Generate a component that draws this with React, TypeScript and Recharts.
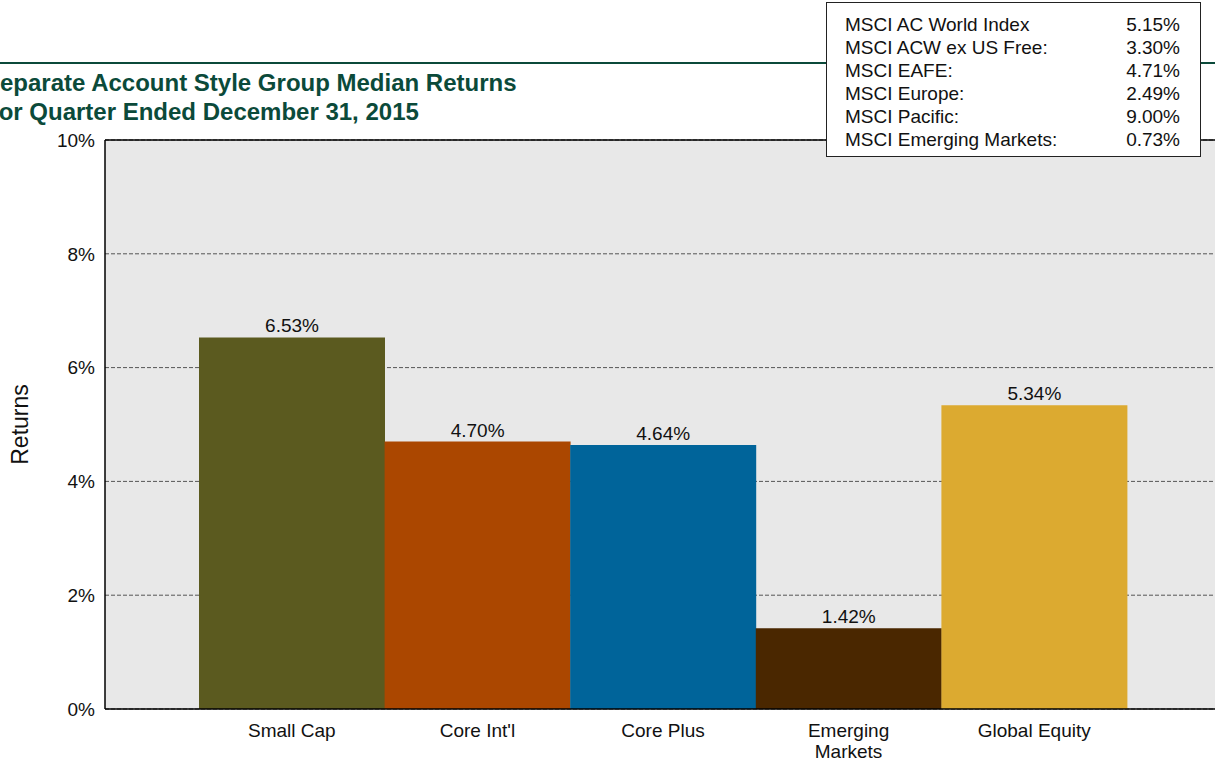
import React from "react";
import { Bar, BarChart, CartesianGrid, Cell, LabelList, ReferenceLine, XAxis, YAxis } from "recharts";

const categories = ["Small Cap", "Core Int'l", "Core Plus", "Emerging\nMarkets", "Global Equity"];
const returns = [6.53, 4.7, 4.64, 1.42, 5.34];
const colors = ["#5b5a1f", "#ab4700", "#00649a", "#4a2700", "#dcaa30"];
const yTicks = [0, 2, 4, 6, 8, 10];

const indexNames = [
  "MSCI AC World Index",
  "MSCI ACW ex US Free:",
  "MSCI EAFE:",
  "MSCI Europe:",
  "MSCI Pacific:",
  "MSCI Emerging Markets:",
];
const indexValues = ["5.15%", "3.30%", "4.71%", "2.49%", "9.00%", "0.73%"];

const titleLines = ["Separate Account Style Group Median Returns", "For Quarter Ended December 31, 2015"];

const FONT = "'Liberation Sans', Arial, sans-serif";
const GREEN = "#0b4a3a";

const data = categories.map((c, i) => ({ name: c, value: returns[i] }));

function CategoryTick(props: any) {
  const { x, y, payload } = props;
  const lines = String(payload.value).split("\n");
  return (
    <text x={x} y={y} textAnchor="middle" fontSize={19} fill="#111" fontFamily={FONT}>
      {lines.map((l, i) => (
        <tspan key={i} x={x} dy={i === 0 ? 20 : 21}>
          {l}
        </tspan>
      ))}
    </text>
  );
}

export default function App() {
  return (
    <div
      style={{
        position: "absolute",
        left: 0,
        top: 0,
        width: 1215,
        height: 763,
        overflow: "hidden",
        background: "#fff",
        fontFamily: FONT,
      }}
    >
      <div style={{ position: "absolute", left: 0, top: 62, width: 1215, height: 1.5, background: GREEN }} />
      <div
        style={{
          position: "absolute",
          left: -16,
          top: 68,
          color: GREEN,
          fontWeight: "bold",
          fontSize: 24,
          lineHeight: "29px",
          whiteSpace: "nowrap",
        }}
      >
        {titleLines.map((t) => (
          <div key={t}>{t}</div>
        ))}
      </div>

      <BarChart
        width={1240}
        height={763}
        data={data}
        barCategoryGap={0}
        margin={{ top: 140, right: 19, left: 0, bottom: 24 }}
        style={{ position: "absolute", left: 0, top: 0 }}
      >
        <CartesianGrid vertical={false} fill="#e8e8e8" stroke="#555" strokeDasharray="4 2" />
        <XAxis
          dataKey="name"
          height={30}
          padding={{ left: 94, right: 94 }}
          tickLine={false}
          axisLine={{ stroke: "#000", strokeWidth: 1.5 }}
          tick={<CategoryTick />}
          interval={0}
        />
        <YAxis
          width={105}
          domain={[0, 10]}
          ticks={yTicks}
          tickFormatter={(v) => `${v}%`}
          tickLine={false}
          tickMargin={4}
          axisLine={{ stroke: "#000", strokeWidth: 1.5 }}
          tick={{ fontSize: 19, fill: "#111", fontFamily: FONT }}
          label={{
            content: (p: any) => {
              const vb = p.viewBox;
              const cy = vb.y + vb.height / 2;
              return (
                <text
                  x={20}
                  y={cy}
                  transform={`rotate(-90 20 ${cy})`}
                  textAnchor="middle"
                  dominantBaseline="central"
                  fontSize={23}
                  fill="#111"
                  fontFamily={FONT}
                >
                  Returns
                </text>
              );
            },
          }}
        />
        <ReferenceLine y={10} stroke="#000" strokeWidth={1.5} />
        <Bar dataKey="value" isAnimationActive={false}>
          {data.map((d, i) => (
            <Cell key={d.name} fill={colors[i]} />
          ))}
          <LabelList
            dataKey="value"
            position="top"
            offset={5}
            formatter={(v: any) => `${Number(v).toFixed(2)}%`}
            style={{ fontSize: 19, fill: "#111", fontFamily: FONT }}
          />
        </Bar>
      </BarChart>

      <div
        style={{
          position: "absolute",
          left: 826,
          top: 2,
          width: 375,
          height: 155,
          boxSizing: "border-box",
          border: "1.5px solid #222",
          background: "#fff",
          padding: "10px 20px 0 18px",
          fontSize: 19,
          lineHeight: "23px",
          color: "#111",
        }}
      >
        {indexNames.map((n, i) => (
          <div key={n} style={{ display: "flex", justifyContent: "space-between" }}>
            <span>{n}</span>
            <span>{indexValues[i]}</span>
          </div>
        ))}
      </div>
    </div>
  );
}
